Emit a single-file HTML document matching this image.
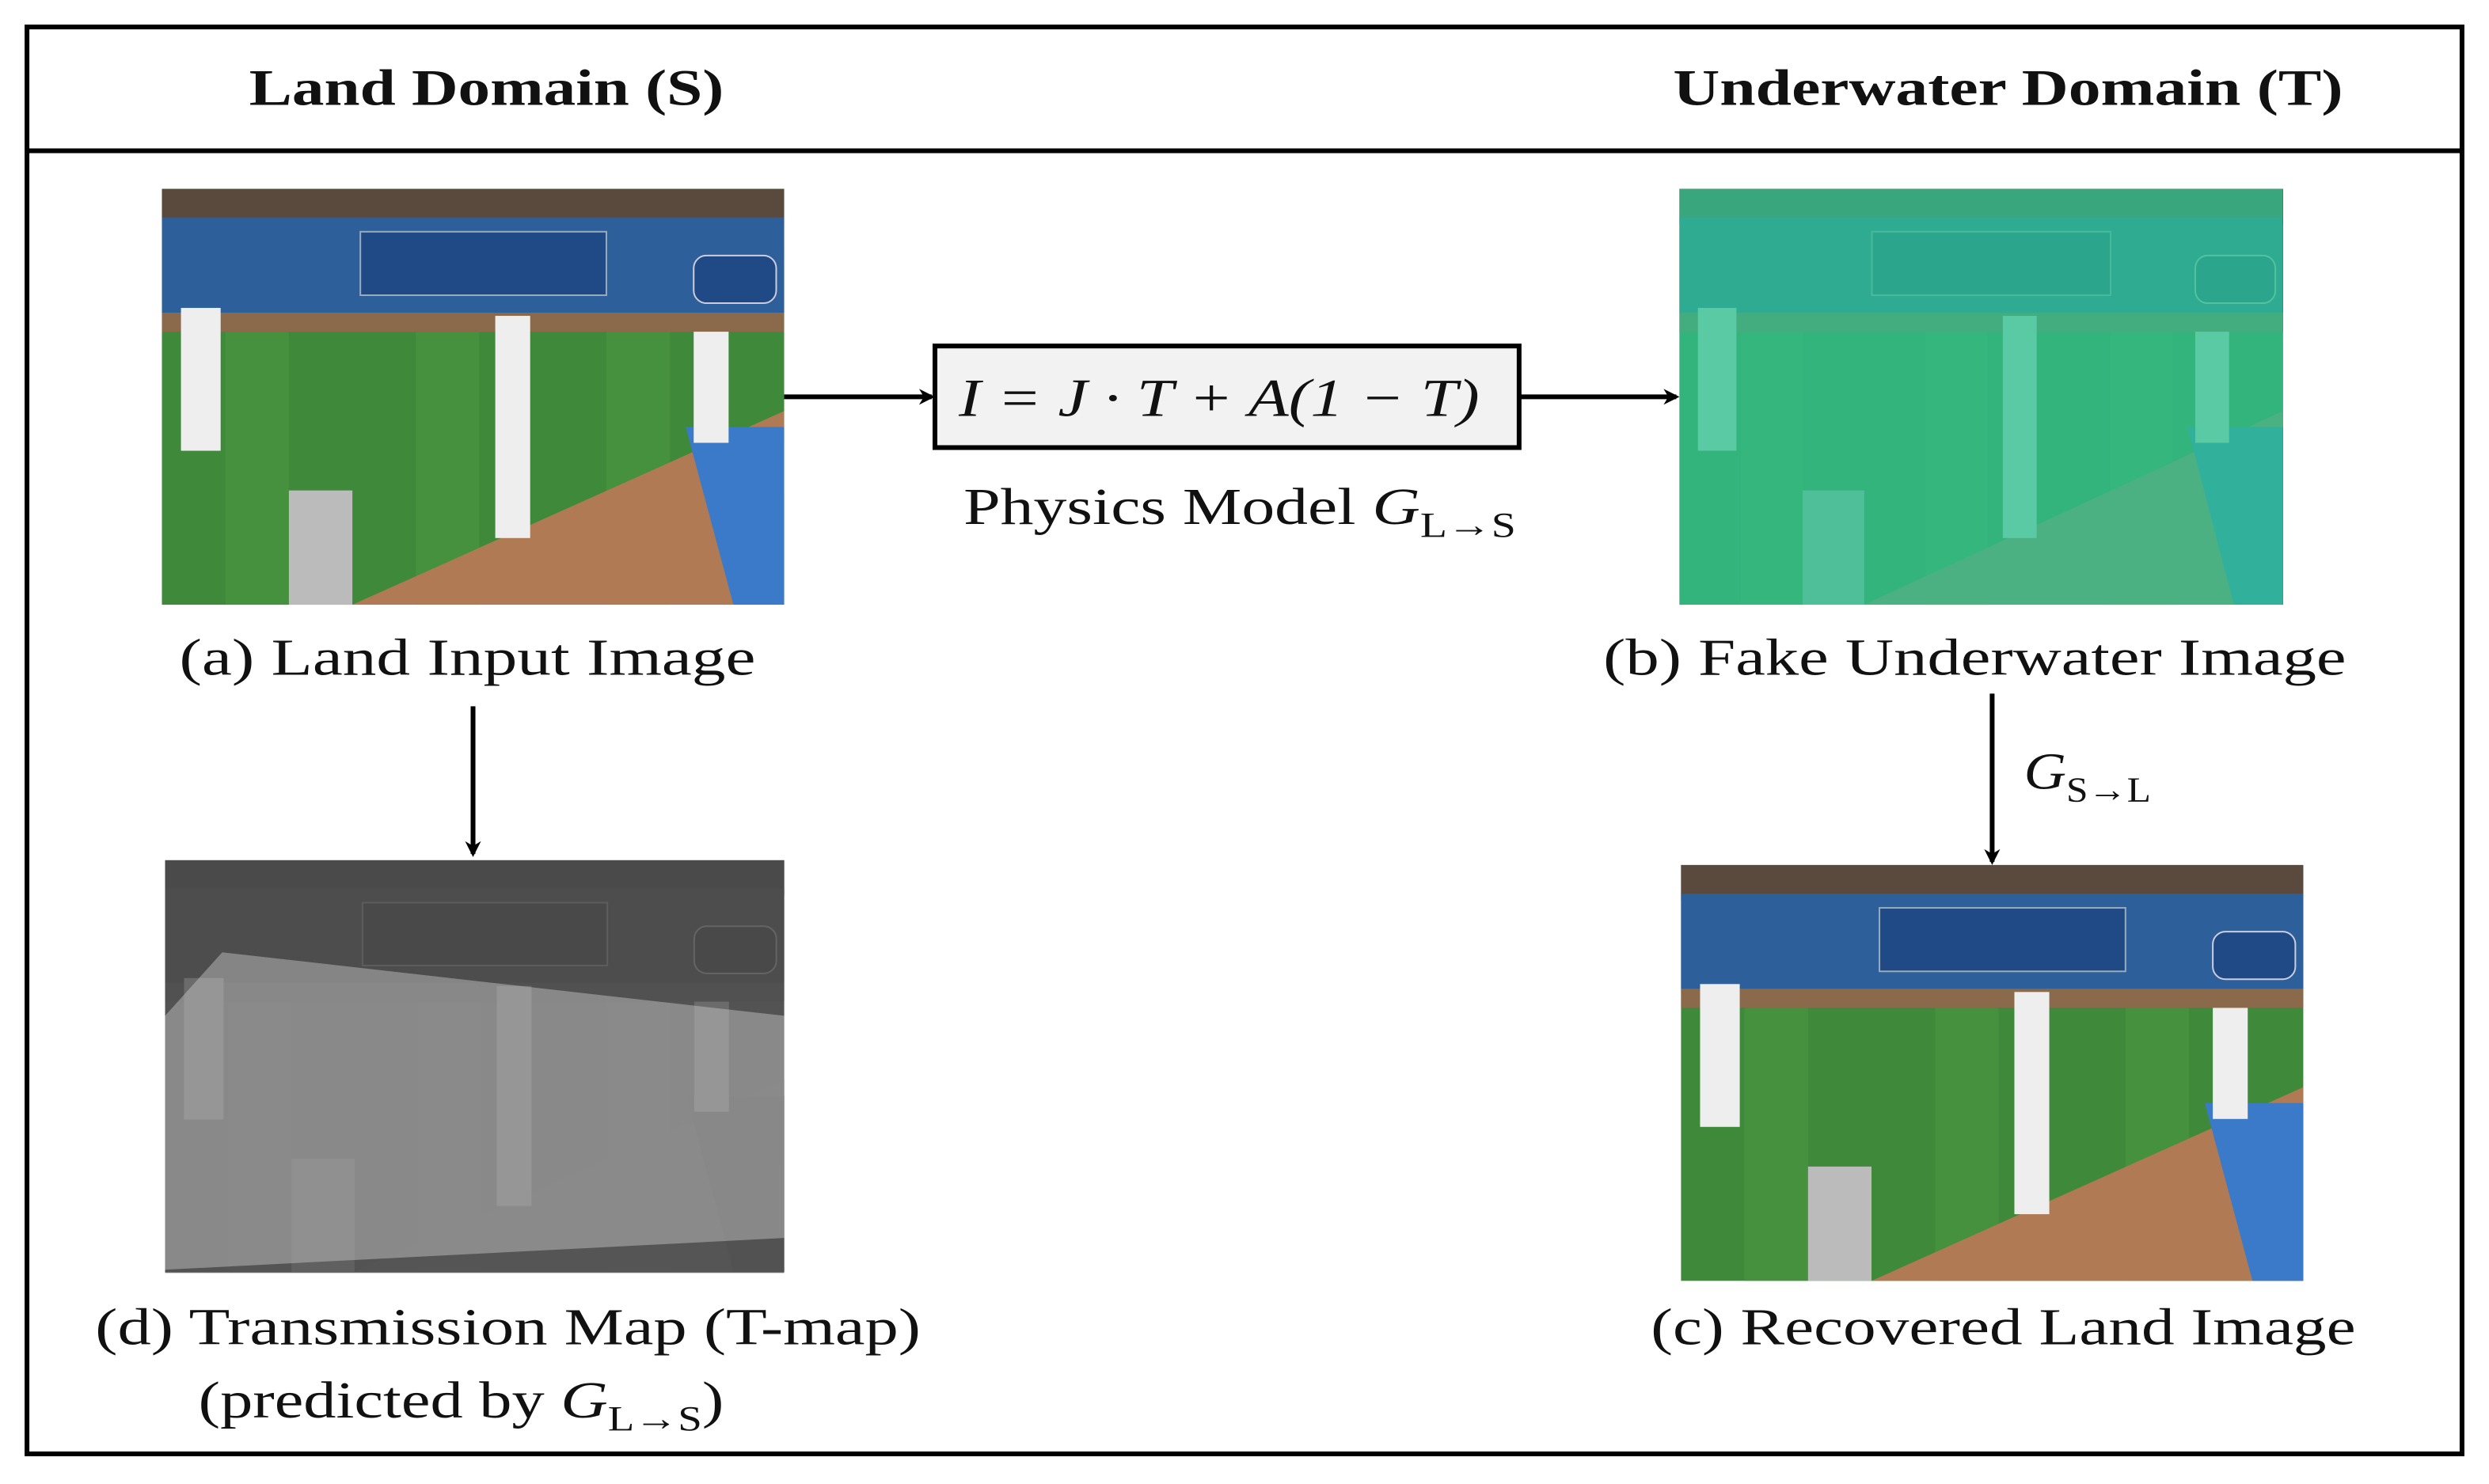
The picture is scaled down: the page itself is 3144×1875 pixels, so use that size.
<!DOCTYPE html>
<html><head><meta charset="utf-8"><style>
html,body{margin:0;padding:0;background:#fff;}
svg{display:block;}
text{font-family:"Liberation Serif",serif;fill:#111;}
</style></head><body>
<svg width="3144" height="1875" viewBox="0 0 1568 935" preserveAspectRatio="none" xmlns="http://www.w3.org/2000/svg">
<defs>
<filter id="gray"><feColorMatrix type="saturate" values="0"/></filter>
<marker id="ah" markerWidth="10" markerHeight="10" refX="8" refY="5" orient="auto" markerUnits="userSpaceOnUse">
<path d="M0,0 L10,5 L0,10 L3,5 Z" fill="#000"/></marker>
<g id="scene">
<rect x="0" y="0" width="392" height="262" fill="#3f8a3a"/>
<rect x="40" y="90" width="40" height="172" fill="#4a963f" opacity="0.6"/>
<rect x="160" y="90" width="40" height="172" fill="#4a963f" opacity="0.6"/>
<rect x="280" y="90" width="40" height="172" fill="#4a963f" opacity="0.6"/>
<rect x="0" y="0" width="392" height="22" fill="#5a4a3e"/>
<rect x="0" y="18" width="392" height="60" fill="#2d5f9a"/>
<rect x="125" y="27" width="155" height="40" fill="#1f4a86" stroke="#9ab" stroke-width="1"/>
<rect x="335" y="42" width="52" height="30" rx="8" fill="#1f4a86" stroke="#ccd"/>
<rect x="0" y="78" width="392" height="12" fill="#8a6a4a"/>
<polygon points="120,262 392,140 392,262" fill="#b07a55"/>
<polygon points="330,150 392,150 392,262 360,262" fill="#3a7ac8"/>
<rect x="210" y="80" width="22" height="140" fill="#eee"/>
<rect x="80" y="190" width="40" height="72" fill="#bbb"/>
<rect x="12" y="75" width="25" height="90" fill="#eee"/>
<rect x="335" y="90" width="22" height="70" fill="#eee"/>
</g>
</defs>
<rect x="17" y="17" width="1534" height="899" fill="none" stroke="#000" stroke-width="3"/>
<line x1="17" y1="95" x2="1551" y2="95" stroke="#000" stroke-width="3"/>
<text x="157" y="66" font-size="32" font-weight="bold" textLength="299" lengthAdjust="spacingAndGlyphs">Land Domain (S)</text>
<text x="1054" y="66" font-size="32" font-weight="bold" textLength="422" lengthAdjust="spacingAndGlyphs">Underwater Domain (T)</text>

<use href="#scene" x="102" y="119"/>
<g transform="translate(1058,119) scale(0.97,1)"><use href="#scene"/></g>
<rect x="1058" y="119" width="380" height="262" fill="#2fc090" opacity="0.78"/>
<use href="#scene" x="1059" y="545"/>
<g filter="url(#gray)">
<g transform="translate(104,542) scale(0.995,0.99)"><use href="#scene"/></g>
<rect x="104" y="542" width="390" height="260" fill="#4a4a4a" opacity="0.8"/>
<polygon points="140,600 494,640 494,780 104,800 104,640" fill="#ccc" opacity="0.45"/>
</g>

<rect x="589" y="218" width="368" height="64" fill="#f2f2f2" stroke="#000" stroke-width="3"/>
<text x="604" y="262" font-size="34" font-style="italic" textLength="328" lengthAdjust="spacingAndGlyphs">I = J · T + A(1 − T)</text>
<line x1="494" y1="250" x2="587" y2="250" stroke="#000" stroke-width="3" marker-end="url(#ah)"/>
<line x1="957" y1="250" x2="1056" y2="250" stroke="#000" stroke-width="3" marker-end="url(#ah)"/>
<text x="607" y="330" font-size="33" textLength="348" lengthAdjust="spacingAndGlyphs">Physics Model  <tspan font-style="italic">G</tspan><tspan font-size="22" dy="8">L→S</tspan></text>

<text x="113" y="425" font-size="33" textLength="363" lengthAdjust="spacingAndGlyphs">(a) Land Input Image</text>
<text x="1010" y="425" font-size="33" textLength="468" lengthAdjust="spacingAndGlyphs">(b) Fake Underwater Image</text>
<line x1="298" y1="445" x2="298" y2="538" stroke="#000" stroke-width="3" marker-end="url(#ah)"/>
<line x1="1255" y1="437" x2="1255" y2="543" stroke="#000" stroke-width="3" marker-end="url(#ah)"/>
<text x="1275" y="497" font-size="33" textLength="80" lengthAdjust="spacingAndGlyphs"><tspan font-style="italic">G</tspan><tspan font-size="22" dy="8">S→L</tspan></text>

<text x="60" y="847" font-size="33" textLength="520" lengthAdjust="spacingAndGlyphs">(d) Transmission Map (T-map)</text>
<text x="125" y="893" font-size="33" textLength="331" lengthAdjust="spacingAndGlyphs">(predicted by <tspan font-style="italic">G</tspan><tspan font-size="22" dy="8">L→S</tspan><tspan dy="-8">)</tspan></text>
<text x="1040" y="847" font-size="33" textLength="444" lengthAdjust="spacingAndGlyphs">(c) Recovered Land Image</text>
</svg>
</body></html>
